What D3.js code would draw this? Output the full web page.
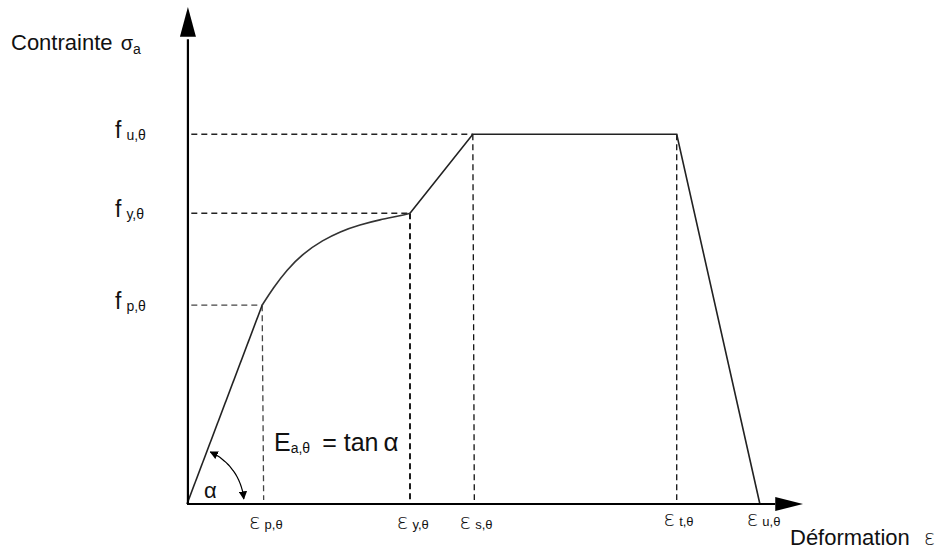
<!DOCTYPE html>
<html>
<head>
<meta charset="utf-8">
<script src="https://cdn.jsdelivr.net/npm/d3@7"></script>
<style>
  html, body { margin: 0; padding: 0; background: #fff; }
  svg { display: block; font-family: "Liberation Sans", Arial, sans-serif; }
</style>
</head>
<body>
<svg id="chart" width="945" height="552"></svg>
<script>
// ---- data (abstract units) ----
const strainSymbols = ["p,θ", "y,θ", "s,θ", "t,θ", "u,θ"];
const strainValues  = [12.2, 36.2, 46.4, 79.5, 93.0];
const stressSymbols = ["p,θ", "y,θ", "u,θ"];
const stressValues  = [40.0, 58.5, 74.4];
// elliptic (hardening) branch between f_p and f_y
const hardeningX = [12.2, 14.0, 16.2, 18.8, 22.1, 24.8, 28.1, 31.3, 34.6, 36.2];
const hardeningY = [40.0, 43.5, 47.1, 50.4, 53.1, 54.8, 56.2, 57.2, 58.0, 58.5];
const xAxisTitle = "Déformation";
const yAxisTitle = "Contrainte";

const svg = d3.select("#chart");
const x = d3.scaleLinear().domain([0, 100]).range([187, 803]);
const y = d3.scaleLinear().domain([0, 100]).range([504, 7]);

const [eP, eY, eS, eT, eU] = strainValues;
const [fP, fY, fU] = stressValues;

// ---- dashed guide lines ----
const dash = svg.append("g").attr("fill", "none");
stressValues.forEach((v, i) => {
  const xEnd = [eP, eY, eS][i];
  dash.append("line")
    .attr("x1", x(0.7)).attr("x2", x(xEnd))
    .attr("y1", y(v)).attr("y2", y(v))
    .attr("stroke", i === 0 ? "#444" : "#222")
    .attr("stroke-width", 1.3)
    .attr("stroke-dasharray", "6,4");
});
const vTops = [fP, fY, fU, fU];
[eP, eY, eS, eT].forEach((v, i) => {
  dash.append("line")
    .attr("x1", x(v)).attr("x2", x(v) + (i === 0 || i === 2 ? 1.5 : 0))
    .attr("y1", y(vTops[i])).attr("y2", y(0.8))
    .attr("stroke", i === 0 ? "#444" : "#111")
    .attr("stroke-width", i === 1 ? 1.9 : 1.3)
    .attr("stroke-dasharray", "6,4");
});

// ---- stress–strain curve ----
const line = d3.line().x(d => x(d[0])).y(d => y(d[1]));
const curvePts = hardeningX.map((v, i) => [v, hardeningY[i]]);
svg.append("path")
  .attr("d", line([[0, 0], [eP, fP]]))
  .attr("fill", "none").attr("stroke", "#222").attr("stroke-width", 1.6);
svg.append("path")
  .attr("d", d3.line().x(d => x(d[0])).y(d => y(d[1])).curve(d3.curveBasis)(curvePts))
  .attr("fill", "none").attr("stroke", "#333").attr("stroke-width", 1.6);
svg.append("path")
  .attr("d", line([[eY, fY], [eS, fU], [eT, fU], [eU, 0]]))
  .attr("fill", "none").attr("stroke", "#222").attr("stroke-width", 1.6)
  .attr("stroke-linejoin", "miter");

// ---- axes ----
const axisG = svg.append("g");
axisG.append("line")
  .attr("x1", x(0)).attr("x2", x(95.5)).attr("y1", y(0)).attr("y2", y(0))
  .attr("stroke", "#000").attr("stroke-width", 2.2);
axisG.append("path")
  .attr("d", `M${x(95.5)},${y(0) - 7} L${x(100)},${y(0)} L${x(95.5)},${y(0) + 7} Z`)
  .attr("fill", "#000");
axisG.append("line")
  .attr("x1", x(0.15)).attr("x2", x(0.15)).attr("y1", y(0)).attr("y2", y(93.5))
  .attr("stroke", "#000").attr("stroke-width", 2.2);
axisG.append("path")
  .attr("d", `M${x(0.15) - 8},${y(94)} L${x(0.15)},${y(100)} L${x(0.15) + 8},${y(94)} Z`)
  .attr("fill", "#000");

// tick labels via d3 axes
const xAxis = d3.axisBottom(x).tickValues(strainValues).tickSize(0).tickFormat("");
const gx = svg.append("g").attr("transform", `translate(0,${y(0)})`).call(xAxis);
gx.select(".domain").remove();
gx.selectAll(".tick").each(function(d, i) {
  const t = d3.select(this).append("text")
    .attr("x", -14).attr("y", i >= 3 ? 22 : 25)
    .attr("fill", "#111").attr("text-anchor", "start");
  t.append("tspan").attr("font-size", 22).attr("font-family", "DejaVu Sans").attr("font-weight", 200).text("ε");
  t.append("tspan").attr("font-size", 13).attr("dx", 4).text(strainSymbols[i]);
});

const yAxis = d3.axisLeft(y).tickValues(stressValues).tickSize(0).tickFormat("");
const gy = svg.append("g").attr("transform", `translate(${x(0)},0)`).call(yAxis);
gy.select(".domain").remove();
gy.selectAll(".tick").each(function(d, i) {
  const t = d3.select(this).append("text")
    .attr("x", -72).attr("y", 3)
    .attr("fill", "#111").attr("text-anchor", "start");
  t.append("tspan").attr("font-size", 23).text("f");
  t.append("tspan").attr("font-size", 14).attr("dx", 5).attr("dy", 2).text(stressSymbols[i]);
});

// axis titles
const yt = svg.append("text").attr("x", 11).attr("y", 50).attr("fill", "#111");
yt.append("tspan").attr("font-size", 22).text(yAxisTitle + " ");
yt.append("tspan").attr("font-size", 20).attr("dx", 2).text("σ");
yt.append("tspan").attr("font-size", 14).attr("dy", 4).text("a");

const xt = svg.append("text").attr("x", 790).attr("y", 545).attr("fill", "#111");
xt.append("tspan").attr("font-size", 22).text(xAxisTitle);
xt.append("tspan").attr("font-size", 21).attr("dx", 14).attr("font-family", "DejaVu Sans").attr("font-weight", 200).text("ε");

// modulus annotation
const et = svg.append("text").attr("x", 274).attr("y", 451).attr("fill", "#111");
et.append("tspan").attr("font-size", 25).text("E");
et.append("tspan").attr("font-size", 14).attr("dy", 2).text("a,θ");
et.append("tspan").attr("font-size", 25).attr("dy", -2).attr("dx", 12).text("= tan");
et.append("tspan").attr("font-size", 26).attr("dx", 5).text("α");

// angle alpha arc
const cx = x(0), cy = y(0);
const ang = Math.atan2(y(0) - y(fP), x(eP) - x(0));
const r = 57;
const a0 = ang - 0.06, a1 = 0.09;
const arcPts = d3.range(0, 1.0001, 0.05).map(t => {
  const a = a0 + (a1 - a0) * t;
  return [cx + r * Math.cos(a), cy - r * Math.sin(a)];
});
const defs = svg.append("defs");
defs.append("marker").attr("id", "ah").attr("viewBox", "0 0 10 10")
  .attr("refX", 9).attr("refY", 5).attr("markerWidth", 7).attr("markerHeight", 7)
  .attr("orient", "auto-start-reverse")
  .append("path").attr("d", "M0,0 L10,5 L0,10 Z").attr("fill", "#000");
svg.append("path")
  .attr("d", d3.line().curve(d3.curveBasis)(arcPts))
  .attr("fill", "none").attr("stroke", "#000").attr("stroke-width", 1.2)
  .attr("marker-start", "url(#ah)").attr("marker-end", "url(#ah)");
svg.append("text").attr("x", 204).attr("y", 498).attr("font-size", 22).attr("fill", "#111").text("α");
</script>
</body>
</html>
